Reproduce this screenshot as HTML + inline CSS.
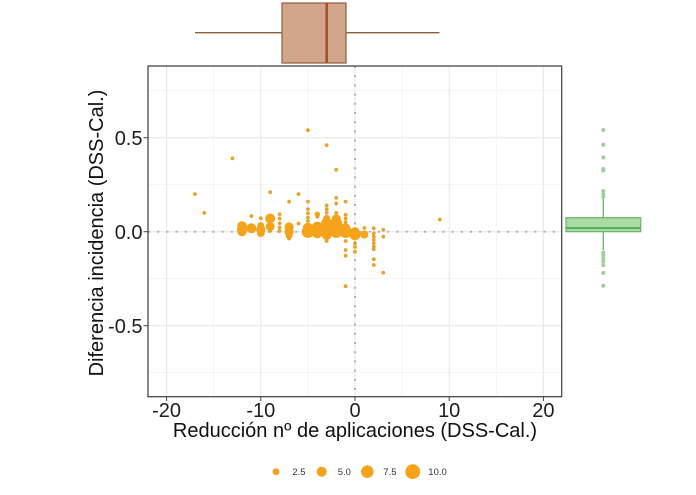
<!DOCTYPE html>
<html><head><meta charset="utf-8"><style>
html,body{margin:0;padding:0;background:#fff;}
svg{display:block;font-family:"Liberation Sans",Arial,sans-serif;}
</style></head><body>
<svg width="696" height="495" viewBox="0 0 696 495" xmlns="http://www.w3.org/2000/svg">
<rect x="0" y="0" width="696" height="495" fill="#fff"/>
<!-- top boxplot -->
<line x1="195" y1="32.7" x2="282" y2="32.7" stroke="#8f5e3e" stroke-width="1.4"/>
<line x1="346" y1="32.7" x2="439.5" y2="32.7" stroke="#8f5e3e" stroke-width="1.4"/>
<rect x="282" y="3" width="64" height="60" fill="#d3a68c" stroke="#8f5e3e" stroke-width="1.2"/>
<line x1="326.7" y1="3" x2="326.7" y2="63" stroke="#a0522d" stroke-width="2.6"/>
<!-- panel -->
<rect x="148" y="66" width="413.7" height="330.7" fill="#fff"/>
<g stroke="#f2f2f2" stroke-width="0.8">
<line x1="148" y1="90.7" x2="561.7" y2="90.7"/>
<line x1="148" y1="184.7" x2="561.7" y2="184.7"/>
<line x1="148" y1="278.7" x2="561.7" y2="278.7"/>
<line x1="148" y1="372.7" x2="561.7" y2="372.7"/>
<line x1="213.7" y1="66" x2="213.7" y2="396.7"/>
<line x1="307.9" y1="66" x2="307.9" y2="396.7"/>
<line x1="402.1" y1="66" x2="402.1" y2="396.7"/>
<line x1="496.3" y1="66" x2="496.3" y2="396.7"/>
</g>
<g stroke="#e6e6e6" stroke-width="1">
<line x1="148" y1="137.7" x2="561.7" y2="137.7"/>
<line x1="148" y1="231.7" x2="561.7" y2="231.7"/>
<line x1="148" y1="325.7" x2="561.7" y2="325.7"/>
<line x1="166.6" y1="66" x2="166.6" y2="396.7"/>
<line x1="260.8" y1="66" x2="260.8" y2="396.7"/>
<line x1="355" y1="66" x2="355" y2="396.7"/>
<line x1="449.2" y1="66" x2="449.2" y2="396.7"/>
<line x1="543.4" y1="66" x2="543.4" y2="396.7"/>
</g>
<!-- dotted reference lines -->
<line x1="148" y1="231.7" x2="561.7" y2="231.7" stroke="#b0b0b0" stroke-width="2" stroke-dasharray="2 7.2"/>
<line x1="355" y1="66" x2="355" y2="396.7" stroke="#b0b0b0" stroke-width="2" stroke-dasharray="2 7.2"/>
<!-- large points -->
<g fill="#f5a31b">
<circle cx="242" cy="226" r="4.8"/><circle cx="242" cy="229.8" r="5"/><circle cx="242" cy="231.7" r="4.6"/>
<circle cx="251.4" cy="228.3" r="5"/>
<circle cx="260.8" cy="225.5" r="3.5"/><circle cx="260.8" cy="229.5" r="4.6"/><circle cx="260.8" cy="233" r="4"/>
<circle cx="270.2" cy="218.5" r="5"/><circle cx="270.2" cy="226.5" r="4.5"/>
<circle cx="289.1" cy="227" r="4.6"/><circle cx="289.1" cy="231.7" r="4.6"/><circle cx="289.1" cy="235.5" r="3.5"/>
<circle cx="307.9" cy="228" r="5.2"/><circle cx="307.9" cy="231.7" r="6.2"/>
<circle cx="317.3" cy="227.5" r="5.7"/><circle cx="317.3" cy="231.7" r="6.2"/><circle cx="317.3" cy="233.6" r="4.6"/>
<circle cx="326.7" cy="218.5" r="3.6"/><circle cx="326.7" cy="223.5" r="5.7"/><circle cx="326.7" cy="227.9" r="6.2"/><circle cx="326.7" cy="231.7" r="6.7"/><circle cx="326.7" cy="235.5" r="4.6"/>
<circle cx="336.2" cy="219" r="4.6"/><circle cx="336.2" cy="223.8" r="6.2"/><circle cx="336.2" cy="227.9" r="6.2"/><circle cx="336.2" cy="231.7" r="6.2"/>
<circle cx="345.6" cy="227.9" r="4.6"/><circle cx="345.6" cy="231.7" r="6.2"/>
<circle cx="355" cy="231.7" r="4.6"/><circle cx="355" cy="234.5" r="5.6"/>
<circle cx="364.4" cy="234.5" r="4"/>
<circle cx="317.3" cy="214.3" r="2.8"/>
</g>
<!-- small points -->
<g fill="#e9a229">
<circle cx="307.9" cy="130.2" r="1.9"/><circle cx="326.7" cy="145.2" r="1.9"/><circle cx="232.5" cy="158.4" r="1.9"/>
<circle cx="336.2" cy="169.7" r="1.9"/><circle cx="194.9" cy="194.1" r="1.9"/><circle cx="270.2" cy="192.2" r="1.9"/>
<circle cx="298.5" cy="194.1" r="1.9"/><circle cx="204.3" cy="212.9" r="1.9"/><circle cx="439.8" cy="219.5" r="1.9"/>
<circle cx="289.1" cy="201.6" r="1.9"/><circle cx="307.9" cy="201.6" r="1.9"/><circle cx="336.2" cy="197.9" r="1.9"/>
<circle cx="336.2" cy="203.5" r="1.9"/><circle cx="345.6" cy="201.6" r="1.9"/><circle cx="326.7" cy="205.4" r="1.9"/>
<circle cx="251.4" cy="216" r="1.9"/><circle cx="279.6" cy="214.3" r="1.9"/><circle cx="260.8" cy="218.3" r="1.9"/>
<circle cx="307.9" cy="209.1" r="1.9"/><circle cx="307.9" cy="213.3" r="1.9"/><circle cx="307.9" cy="217.5" r="1.9"/><circle cx="307.9" cy="221" r="1.9"/>
<circle cx="317.3" cy="216.7" r="1.9"/><circle cx="345.6" cy="214.8" r="1.9"/><circle cx="345.6" cy="218.5" r="1.9"/>
<circle cx="298.5" cy="223.5" r="1.9"/><circle cx="279.6" cy="218.5" r="1.9"/><circle cx="279.6" cy="223.3" r="1.9"/>
<circle cx="279.6" cy="227.5" r="1.9"/><circle cx="279.6" cy="231" r="1.9"/><circle cx="270.2" cy="231" r="1.9"/>
<circle cx="326.7" cy="212.9" r="1.9"/><circle cx="326.7" cy="209.1" r="1.9"/><circle cx="336.2" cy="212.9" r="1.9"/>
<circle cx="345.6" cy="222.3" r="1.9"/><circle cx="364.4" cy="228" r="1.9"/>
<circle cx="373.8" cy="228.3" r="1.9"/><circle cx="373.8" cy="233.3" r="1.9"/><circle cx="373.8" cy="236.7" r="1.9"/>
<circle cx="373.8" cy="240" r="1.9"/><circle cx="373.8" cy="243.3" r="1.9"/><circle cx="373.8" cy="246.7" r="1.9"/>
<circle cx="373.8" cy="249.3" r="1.9"/><circle cx="373.8" cy="259.3" r="1.9"/><circle cx="373.8" cy="265" r="1.9"/>
<circle cx="383.3" cy="229.8" r="1.9"/><circle cx="383.3" cy="236.7" r="1.9"/><circle cx="383.3" cy="272.7" r="1.9"/>
<circle cx="345.6" cy="286.2" r="1.9"/><circle cx="345.6" cy="241" r="1.9"/><circle cx="345.6" cy="250" r="1.9"/>
<circle cx="345.6" cy="255.7" r="1.9"/><circle cx="355" cy="243.5" r="1.9"/><circle cx="355" cy="247" r="1.9"/>
<circle cx="355" cy="251.7" r="1.9"/><circle cx="326.7" cy="241" r="1.9"/><circle cx="289.1" cy="238.5" r="1.9"/>
</g>
<rect x="148" y="66" width="413.7" height="330.7" fill="none" stroke="#3a3a3a" stroke-width="1.2"/>
<!-- right boxplot -->
<line x1="603.3" y1="197" x2="603.3" y2="217.7" stroke="#6ab365" stroke-width="1.3"/>
<line x1="603.3" y1="231.7" x2="603.3" y2="250" stroke="#6ab365" stroke-width="1.3"/>
<rect x="566" y="217.7" width="74.7" height="14" fill="#a9dba4" stroke="#6ab365" stroke-width="1.2"/>
<line x1="566" y1="228" x2="640.7" y2="228" stroke="#5aae55" stroke-width="2"/>
<g fill="#9fcf9a">
<circle cx="603.3" cy="130" r="2"/><circle cx="603.3" cy="144.8" r="2"/><circle cx="603.3" cy="157.5" r="2"/>
<circle cx="603.3" cy="169" r="2"/><circle cx="603.3" cy="170.5" r="2"/><circle cx="603.3" cy="191" r="2"/>
<circle cx="603.3" cy="194" r="2"/><circle cx="603.3" cy="197" r="2"/>
<circle cx="603.3" cy="252.5" r="2"/><circle cx="603.3" cy="255.5" r="2"/><circle cx="603.3" cy="258.5" r="2"/>
<circle cx="603.3" cy="261.5" r="2"/><circle cx="603.3" cy="265.3" r="2"/><circle cx="603.3" cy="273" r="2"/>
<circle cx="603.3" cy="285.7" r="2"/>
</g>
<!-- axis ticks -->
<g stroke="#444" stroke-width="1">
<line x1="143.5" y1="137.7" x2="148" y2="137.7"/>
<line x1="143.5" y1="231.7" x2="148" y2="231.7"/>
<line x1="143.5" y1="325.7" x2="148" y2="325.7"/>
<line x1="166.6" y1="396.7" x2="166.6" y2="401"/>
<line x1="260.8" y1="396.7" x2="260.8" y2="401"/>
<line x1="355" y1="396.7" x2="355" y2="401"/>
<line x1="449.2" y1="396.7" x2="449.2" y2="401"/>
<line x1="543.4" y1="396.7" x2="543.4" y2="401"/>
</g>
<g font-size="20" fill="#1e1e1e" text-anchor="end">
<text x="142.5" y="145">0.5</text>
<text x="142.5" y="239">0.0</text>
<text x="142.5" y="333">-0.5</text>
</g>
<g font-size="20" fill="#1e1e1e" text-anchor="middle">
<text x="166.6" y="417">-20</text>
<text x="260.8" y="417">-10</text>
<text x="355" y="417">0</text>
<text x="449.2" y="417">10</text>
<text x="543.4" y="417">20</text>
</g>
<text x="355" y="437" font-size="20" fill="#111" text-anchor="middle">Reducción nº de aplicaciones (DSS-Cal.)</text>
<text transform="translate(103,233) rotate(-90)" font-size="20" fill="#111" text-anchor="middle">Diferencia incidencia (DSS-Cal.)</text>
<!-- legend -->
<g fill="#f5a31b">
<circle cx="276" cy="471.7" r="3.4"/>
<circle cx="321.7" cy="471.7" r="5"/>
<circle cx="367.3" cy="471.7" r="6.3"/>
<circle cx="412.7" cy="471.7" r="7.4"/>
</g>
<g font-size="9.5" fill="#333">
<text x="292.3" y="475">2.5</text>
<text x="337.7" y="475">5.0</text>
<text x="383.3" y="475">7.5</text>
<text x="428.3" y="475">10.0</text>
</g>
</svg>
</body></html>
